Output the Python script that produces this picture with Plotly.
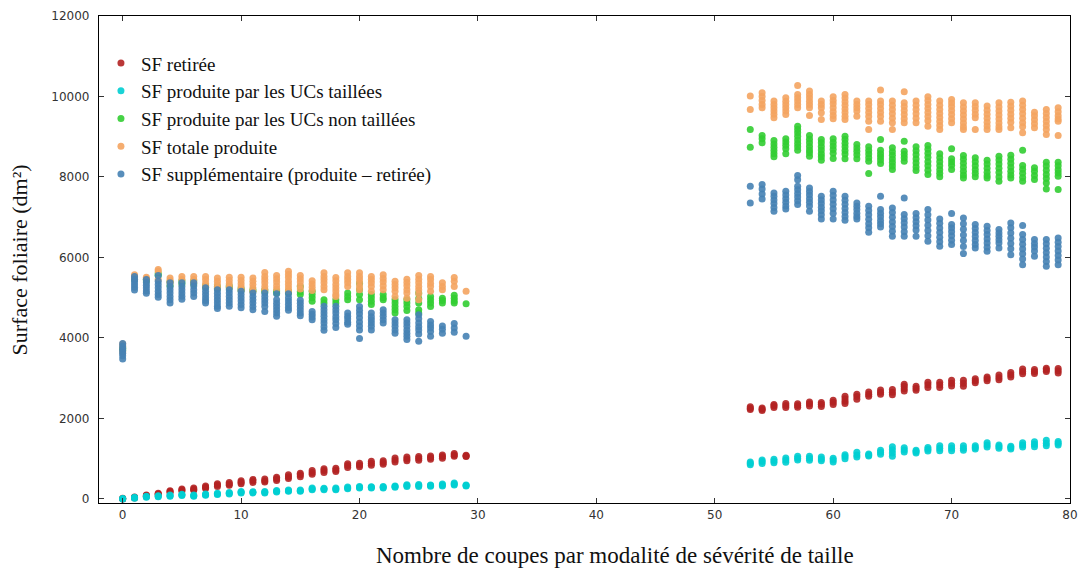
import plotly.graph_objects as go

# ---------------- data ----------------
series_names = [
    "SF retirée",
    "SF produite par les UCs taillées",
    "SF produite par les UCs non taillées",
    "SF totale produite",
    "SF supplémentaire (produite – retirée)",
]
series_colors = ["#b22222", "#00ced1", "#32cd32", "#f4a460", "#4682b4"]

sf_retiree = {
    0: [0, 5, 15], 1: [25, 35, 50], 2: [70, 85, 100], 3: [110, 125, 145],
    4: [160, 185, 205], 5: [200, 225, 250], 6: [215, 240, 270], 7: [260, 290, 320],
    8: [310, 350, 380], 9: [340, 375, 410], 10: [380, 415, 455], 11: [410, 450, 485],
    12: [420, 455, 495], 13: [460, 500, 540], 14: [510, 555, 600], 15: [550, 600, 640],
    16: [615, 660, 705], 17: [660, 705, 750], 18: [680, 720, 765], 19: [780, 830, 875],
    20: [800, 845, 890], 21: [840, 890, 935], 22: [860, 905, 950], 23: [920, 970, 1015],
    24: [950, 995, 1040], 25: [965, 1010, 1055], 26: [985, 1030, 1070], 27: [1010, 1055, 1095],
    28: [1060, 1095, 1130], 29: [1055, 1070, 1085],
    53: [2220, 2256, 2290], 54: [2200, 2231, 2260], 55: [2270, 2314, 2350],
    56: [2270, 2322, 2370], 57: [2280, 2322, 2365], 58: [2310, 2364, 2410],
    59: [2300, 2356, 2400], 60: [2350, 2405, 2450], 61: [2370, 2430, 2490, 2550],
    62: [2480, 2546, 2600], 63: [2550, 2604, 2660], 64: [2600, 2654, 2710],
    65: [2590, 2654, 2720], 66: [2680, 2740, 2800, 2850], 67: [2700, 2754, 2800],
    68: [2770, 2836, 2900], 69: [2770, 2836, 2900], 70: [2810, 2878, 2950],
    71: [2800, 2878, 2950], 72: [2890, 2936, 2985], 73: [2940, 2986, 3030],
    74: [2960, 3019, 3080], 75: [3030, 3085, 3140], 76: [3110, 3168, 3230],
    77: [3120, 3168, 3220], 78: [3170, 3210, 3250], 79: [3130, 3185, 3240],
}

sf_taillees = {
    0: [0, 5, 10], 1: [20, 33, 45], 2: [45, 58, 70], 3: [55, 66, 80],
    4: [70, 83, 100], 5: [85, 100, 115], 6: [70, 83, 100], 7: [95, 108, 125],
    8: [110, 124, 140], 9: [125, 141, 160], 10: [150, 166, 185], 11: [150, 166, 180],
    12: [150, 166, 185], 13: [175, 191, 210], 14: [190, 207, 225], 15: [190, 207, 225],
    16: [230, 249, 270], 17: [230, 249, 265], 18: [230, 249, 270], 19: [255, 274, 295],
    20: [270, 290, 310], 21: [270, 290, 305], 22: [270, 290, 310], 23: [290, 307, 325],
    24: [310, 332, 355], 25: [310, 332, 360], 26: [315, 332, 350], 27: [325, 348, 375],
    28: [350, 373, 400], 29: [320, 332, 345],
    53: [850, 887, 920], 54: [880, 929, 970], 55: [900, 945, 990], 56: [915, 970, 1020],
    57: [970, 1012, 1060], 58: [960, 1012, 1060], 59: [950, 995, 1040], 60: [920, 970, 1010],
    61: [1000, 1053, 1100], 62: [1040, 1095, 1160], 63: [1070, 1095, 1120],
    64: [1110, 1161, 1210], 65: [1060, 1140, 1220, 1300], 66: [1170, 1219, 1270],
    67: [1140, 1178, 1210], 68: [1190, 1236, 1280], 69: [1200, 1260, 1320],
    70: [1200, 1260, 1320], 71: [1210, 1260, 1320], 72: [1240, 1277, 1320],
    73: [1290, 1344, 1400], 74: [1260, 1302, 1340], 75: [1240, 1277, 1310],
    76: [1290, 1344, 1400], 77: [1300, 1360, 1420], 78: [1320, 1385, 1460],
    79: [1340, 1385, 1430],
}

sf_non_taillees = {
    0: [3700, 3750], 1: [5500, 5450], 2: [5460, 5420], 3: [5600, 5550],
    4: [5400, 5300], 5: [5420, 5350], 6: [5420, 5340], 7: [5300, 5260],
    8: [5280, 5230], 9: [5290, 5250], 10: [5230, 5180], 11: [5200, 5160],
    12: [5200, 5150], 13: [5170, 5120], 14: [5170, 5120], 15: [5280, 5150, 5080],
    16: [5160, 5080, 5000, 4910], 17: [4950, 4870], 18: [4950, 4870],
    19: [5120, 5030, 4950], 20: [5360, 5200, 5080, 4950], 21: [5080, 5000, 4910, 4830],
    22: [5080, 5000, 4950], 23: [4950, 4870, 4780, 4700, 4620],
    24: [4950, 4870, 4780, 4680], 25: [5120, 4980, 4870, 4700, 4620],
    26: [5030, 4950, 4870, 4780], 27: [4990, 4930, 4870], 28: [5060, 4990, 4920, 4870],
    29: [4850],
    53: [9181, 8741], 54: [9031, 8950, 8849], 55: [8907, 8820, 8740, 8660, 8580, 8500],
    56: [8949, 8870, 8790, 8700, 8575], 57: [9263, 9180, 9100, 9010, 8920, 8830, 8750, 8666],
    58: [9031, 8940, 8850, 8760, 8670, 8600, 8517], 59: [8932, 8850, 8760, 8670, 8580, 8500, 8417],
    60: [8949, 8860, 8770, 8680, 8590, 8459], 61: [9014, 8930, 8840, 8750, 8660, 8570, 8451],
    62: [8807, 8720, 8640, 8550, 8451], 63: [8749, 8660, 8570, 8480, 8393, 8086],
    64: [8932, 8666, 8580, 8500, 8420, 8335], 65: [8724, 8630, 8540, 8450, 8360, 8270, 8185],
    66: [8890, 8642, 8560, 8480, 8393], 67: [8749, 8650, 8550, 8450, 8350, 8250, 8161],
    68: [8783, 8690, 8590, 8490, 8380, 8280, 8170, 8061], 69: [8575, 8480, 8380, 8280, 8180, 8090, 8003],
    70: [8699, 8451, 8370, 8290, 8185], 71: [8534, 8440, 8340, 8240, 8140, 8050, 7978],
    72: [8476, 8380, 8280, 8180, 8090, 8003], 73: [8417, 8320, 8220, 8120, 8030, 7978],
    74: [8517, 8420, 8320, 8220, 8110, 8000, 7895], 75: [8542, 8440, 8340, 8240, 8140, 8050, 7978],
    76: [8666, 8285, 8190, 8090, 7990, 7895], 77: [8227, 8140, 8040, 7937],
    78: [8368, 8270, 8170, 8060, 7960, 7850, 7703], 79: [8368, 8280, 8180, 8100, 8020, 7688],
}

sf_totale = {
    0: [3650, 3780, 3850], 1: [5570, 5530, 5490], 2: [5510, 5470], 3: [5700, 5660, 5450],
    4: [5490, 5430, 5370], 5: [5530, 5450], 6: [5530, 5450, 5370],
    7: [5530, 5450, 5360, 5280], 8: [5490, 5410, 5330, 5250], 9: [5510, 5430, 5350, 5270],
    10: [5510, 5430, 5350, 5270, 5200], 11: [5490, 5410, 5330, 5250, 5160],
    12: [5630, 5530, 5450, 5370, 5280, 5200], 13: [5550, 5470, 5390, 5300, 5220],
    14: [5660, 5580, 5500, 5410, 5330, 5250, 5170], 15: [5550, 5470, 5390, 5300, 5220],
    16: [5420, 5340, 5260, 5180], 17: [5620, 5530, 5450, 5370, 5280, 5200],
    18: [5500, 5420, 5330, 5250, 5170, 5080, 5030], 19: [5620, 5530, 5450, 5370, 5280],
    20: [5620, 5530, 5450, 5370, 5280, 5200], 21: [5530, 5450, 5370, 5280, 5160],
    22: [5570, 5480, 5400, 5300, 5200], 23: [5410, 5330, 5250, 5160, 5030],
    24: [5460, 5380, 5300, 5200, 5120, 4990], 25: [5550, 5460, 5370, 5280, 5200, 5100, 4950],
    26: [5530, 5450, 5360, 5280, 5160], 27: [5370, 5280, 5200], 28: [5500, 5410, 5280],
    29: [5160],
    53: [10010, 9678], 54: [10093, 10000, 9900, 9800, 9719],
    55: [9885, 9800, 9720, 9640, 9560, 9470], 56: [9968, 9880, 9800, 9720, 9640, 9554],
    57: [10275, 10052, 9970, 9890, 9800, 9719], 58: [10134, 10050, 9970, 9880, 9800, 9719, 9529],
    59: [9885, 9800, 9720, 9595, 9429], 60: [9993, 9900, 9820, 9720, 9620, 9530, 9446],
    61: [10052, 9960, 9870, 9780, 9690, 9600, 9510, 9429], 62: [9885, 9800, 9720, 9640, 9512],
    63: [9885, 9800, 9700, 9600, 9500, 9388, 9181], 64: [10159, 9885, 9800, 9700, 9600, 9500, 9388],
    65: [9885, 9780, 9680, 9570, 9460, 9346, 9181], 66: [10117, 9844, 9750, 9650, 9550, 9450, 9346],
    67: [9885, 9780, 9680, 9570, 9460, 9346], 68: [9993, 9900, 9800, 9700, 9600, 9500, 9400, 9263],
    69: [9885, 9780, 9680, 9580, 9480, 9380, 9280, 9181], 70: [9927, 9840, 9750, 9650, 9550, 9450, 9346],
    71: [9844, 9740, 9640, 9540, 9440, 9340, 9250, 9181], 72: [9844, 9750, 9660, 9560, 9470, 9181],
    73: [9761, 9660, 9560, 9460, 9360, 9270, 9181], 74: [9844, 9740, 9640, 9540, 9440, 9340, 9250, 9181],
    75: [9860, 9760, 9660, 9560, 9460, 9360, 9222], 76: [9885, 9780, 9680, 9570, 9460, 9350, 9250, 9098],
    77: [9611, 9520, 9420, 9320, 9222], 78: [9678, 9580, 9480, 9380, 9280, 9180, 9056],
    79: [9719, 9620, 9520, 9440, 9388, 9031],
}

sf_supplementaire = {
    0: [3480, 3560, 3620, 3680, 3740, 3800, 3860],
    1: [5530, 5460, 5400, 5330, 5260, 5190], 2: [5450, 5380, 5310, 5240, 5170, 5110],
    3: [5550, 5410, 5330, 5250, 5160, 5080, 5010], 4: [5370, 5280, 5200, 5120, 5030, 4950, 4870],
    5: [5370, 5280, 5200, 5120, 5040, 4960], 6: [5370, 5290, 5200, 5120, 5030],
    7: [5250, 5160, 5080, 5000, 4930, 4870], 8: [5200, 5110, 5030, 4950, 4870, 4790, 4730],
    9: [5200, 5120, 5030, 4950, 4870, 4790], 10: [5160, 5080, 5000, 4920, 4830, 4750],
    11: [5120, 5030, 4950, 4870, 4780, 4700], 12: [5120, 5030, 4950, 4870, 4780, 4660],
    13: [5100, 4950, 4860, 4780, 4700, 4620, 4540], 14: [5100, 5000, 4920, 4840, 4760, 4690],
    15: [4940, 4860, 4780, 4700, 4620, 4550], 16: [4660, 4590, 4520, 4450],
    17: [4790, 4700, 4620, 4540, 4450, 4370, 4280, 4190], 18: [4790, 4700, 4620, 4530, 4450, 4360, 4260],
    19: [4620, 4540, 4470, 4390, 4340], 20: [4780, 4690, 4600, 4500, 4400, 4300, 4200, 3990],
    21: [4620, 4530, 4450, 4370, 4290, 4200], 22: [4700, 4620, 4540, 4450, 4370],
    23: [4450, 4370, 4290, 4200, 4120], 24: [4450, 4370, 4290, 4200, 4120, 4040, 3960],
    25: [4580, 4480, 4370, 4280, 4200, 4100, 3920], 26: [4410, 4320, 4250, 4160, 4040],
    27: [4300, 4220, 4120], 28: [4360, 4250, 4140], 29: [4040],
    53: [7771, 7356], 54: [7812, 7700, 7580, 7456], 55: [7605, 7520, 7430, 7340, 7240, 7149],
    56: [7646, 7550, 7460, 7370, 7280, 7207], 57: [8036, 7930, 7771, 7680, 7590, 7500, 7410, 7315],
    58: [7729, 7640, 7550, 7460, 7370, 7280, 7149], 59: [7522, 7430, 7340, 7250, 7160, 7060, 6958],
    60: [7646, 7540, 7430, 7320, 7210, 7100, 6958], 61: [7522, 7420, 7320, 7220, 7120, 7020, 6925],
    62: [7356, 7270, 7190, 7100, 7020, 6958], 63: [7273, 7170, 7060, 6950, 6840, 6740, 6627],
    64: [7522, 7190, 7100, 7010, 6920, 6840, 6759], 65: [7231, 7120, 7000, 6880, 6770, 6650, 6527],
    66: [7481, 7066, 6960, 6860, 6760, 6640, 6527], 67: [7091, 6990, 6890, 6790, 6680, 6527],
    68: [7190, 7060, 6930, 6800, 6670, 6540, 6403], 69: [6958, 6850, 6730, 6620, 6500, 6390, 6278],
    70: [7091, 6817, 6730, 6640, 6540, 6430, 6320], 71: [6983, 6840, 6700, 6560, 6420, 6270, 6096],
    72: [6817, 6720, 6620, 6520, 6420, 6320, 6237], 73: [6776, 6670, 6570, 6460, 6360, 6254, 6154],
    74: [6693, 6610, 6530, 6440, 6360, 6237], 75: [6859, 6740, 6610, 6480, 6350, 6220, 6071],
    76: [6792, 6569, 6450, 6330, 6210, 6090, 5960, 5822], 77: [6444, 6350, 6260, 6160, 6029],
    78: [6444, 6340, 6230, 6120, 6010, 5900, 5781], 79: [6486, 6380, 6270, 6160, 6050, 5940, 5822],
}

x_ticks = [0, 10, 20, 30, 40, 50, 60, 70, 80]
x_tick_labels = ["0", "10", "20", "30", "40", "50", "60", "70", "80"]
y_ticks = [0, 2000, 4000, 6000, 8000, 10000, 12000]
y_tick_labels = ["0", "2000", "4000", "6000", "8000", "10000", "12000"]
x_title = "Nombre de coupes par modalité de sévérité de taille"
y_title = "Surface foliaire (dm²)"

# ---------------- figure ----------------
all_series = [sf_retiree, sf_taillees, sf_non_taillees, sf_totale, sf_supplementaire]

fig = go.Figure()
for name, color, data in zip(series_names, series_colors, all_series):
    xs, ys = [], []
    for xv, vals in data.items():
        for v in vals:
            xs.append(xv)
            ys.append(v)
    fig.add_trace(go.Scatter(
        x=xs, y=ys, mode="markers", name=name,
        marker=dict(color=color, size=7, opacity=0.9, line=dict(width=0)),
    ))

axis_common = dict(
    showline=True, linecolor="black", linewidth=1.2, mirror="ticks",
    ticks="inside", ticklen=5, tickwidth=1, tickcolor="#333", showgrid=False,
    zeroline=False, automargin=False,
    tickfont=dict(family="DejaVu Sans", size=12, color="#333"),
)
fig.update_xaxes(range=[-2, 80], tickvals=x_ticks, ticktext=x_tick_labels, **axis_common)
fig.update_yaxes(range=[-100, 12000], tickvals=y_ticks, ticktext=y_tick_labels,
                 ticklabelstandoff=6, **axis_common)

fig.update_layout(
    width=1079, height=572,
    margin=dict(l=99, r=9, t=16, b=69),
    plot_bgcolor="white", paper_bgcolor="white",
    showlegend=True,
    legend=dict(
        x=0.002, y=0.942, xanchor="left", yanchor="top",
        bgcolor="rgba(0,0,0,0)", borderwidth=0,
        font=dict(family="Liberation Serif", size=19, color="#111"),
        tracegroupgap=0, itemsizing="trace",
    ),
    annotations=[
        dict(text=x_title, xref="paper", yref="paper", x=0.531, y=-0.107,
             xanchor="center", yanchor="middle", showarrow=False,
             font=dict(family="Liberation Serif", size=23, color="#111")),
        dict(text=y_title, xref="paper", yref="paper", x=-0.0814, y=0.5,
             xanchor="center", yanchor="middle", showarrow=False, textangle=-90,
             font=dict(family="Liberation Serif", size=22, color="#111")),
    ],
)

fig.write_html(
    "out.html",
    config={"displayModeBar": False},
    post_script="document.body.style.margin='0';document.body.style.padding='0';",
)
